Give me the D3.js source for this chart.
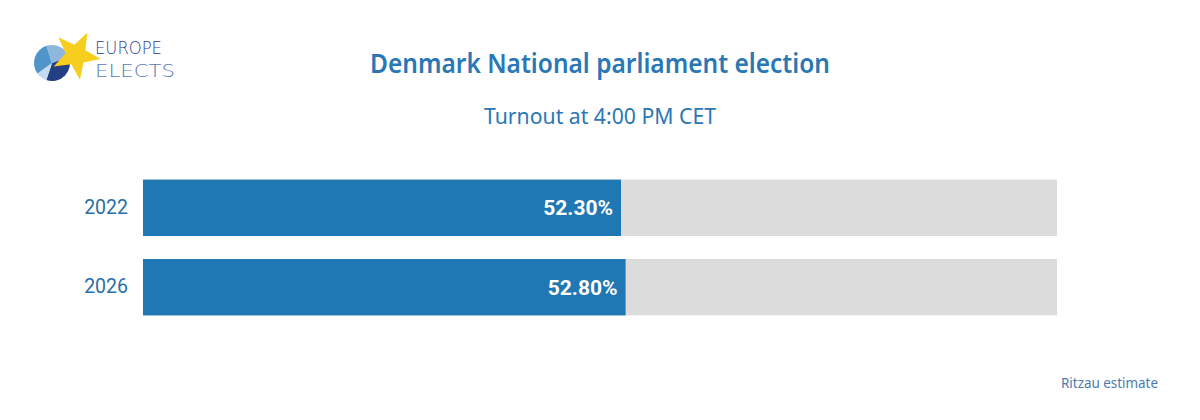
<!DOCTYPE html>
<html><head><meta charset="utf-8">
<script src="https://cdn.jsdelivr.net/npm/d3@7"></script>
<style>body{margin:0;background:#fff}svg{display:block}</style>
</head><body>
<script>
const categories = ["2022", "2026"];
const turnout = [52.30, 52.80];
const maxValue = 100;
const titleText = "Denmark National parliament election";
const subtitleText = "Turnout at 4:00 PM CET";
const sourceText = "Ritzau estimate";

const W = 1200, H = 420;
const svg = d3.select("body").append("svg").attr("width", W).attr("height", H);
svg.append("rect").attr("width", W).attr("height", H).attr("fill", "#fff");

const x = d3.scaleLinear().domain([0, maxValue]).range([143, 1057]);
const y = d3.scaleBand().domain(categories).range([168.5, 326.5]).paddingInner(0.29).paddingOuter(0.14);

const titleFont = "'Noto Sans', 'DejaVu Sans', sans-serif";
svg.append("text").attr("x", 600).attr("y", 73).attr("text-anchor", "middle")
  .attr("font-family", titleFont).attr("font-size", 27).attr("font-weight", 600)
  .attr("fill", "#2a77b6").attr("textLength", 460).attr("lengthAdjust", "spacingAndGlyphs")
  .text(titleText);
svg.append("text").attr("x", 600).attr("y", 124).attr("text-anchor", "middle")
  .attr("font-family", titleFont).attr("font-size", 22)
  .attr("fill", "#2a77b6").attr("textLength", 232).attr("lengthAdjust", "spacingAndGlyphs")
  .text(subtitleText);

const rows = svg.append("g").selectAll("g").data(categories).join("g");
rows.append("rect").attr("x", x(0)).attr("y", d => y(d)).attr("width", x(maxValue) - x(0))
  .attr("height", y.bandwidth()).attr("fill", "#dcdcdc");
rows.append("rect").attr("x", x(0)).attr("y", d => y(d)).attr("width", (d, i) => x(turnout[i]) - x(0))
  .attr("height", y.bandwidth()).attr("fill", "#1f77b4");
rows.append("text").attr("x", (d, i) => x(turnout[i]) - 8).attr("y", d => y(d) + y.bandwidth() / 2)
  .attr("dy", "0.36em").attr("text-anchor", "end")
  .attr("font-family", "Roboto, sans-serif").attr("font-weight", "bold").attr("font-size", 21)
  .attr("fill", "#fff").text((d, i) => turnout[i].toFixed(2) + "%");

const yAxis = svg.append("g").attr("transform", `translate(${x(0)},0)`)
  .call(d3.axisLeft(y).tickSize(0).tickPadding(15));
yAxis.select(".domain").remove();
yAxis.selectAll("text").attr("font-family", "Roboto, sans-serif").attr("font-size", 19.5).attr("fill", "#2a6fa8");

svg.append("text").attr("x", 1158).attr("y", 388).attr("text-anchor", "end")
  .attr("font-family", titleFont).attr("font-size", 14).attr("fill", "#4a7bb0")
  .attr("textLength", 97).attr("lengthAdjust", "spacingAndGlyphs").text(sourceText);

// Logo
const logo = svg.append("g");
const pieData = [
  {v: 0.36, c: "#253f84"},
  {v: 0.10, c: "#c3dbf0"},
  {v: 0.30, c: "#4f95c9"},
  {v: 0.24, c: "#8fb6dc"}
];
const pie = d3.pie().value(d => d.v).sort(null).startAngle(1.2).endAngle(1.2 + 2 * Math.PI);
const arc = d3.arc().innerRadius(0).outerRadius(18);
logo.append("g").attr("transform", "translate(52,63)").selectAll("path").data(pie(pieData)).join("path")
  .attr("d", arc).attr("fill", d => d.data.c);
const starPts = d3.range(10).map(i => {
  const a = -Math.PI / 2 + i * Math.PI / 5 + 0.47;
  const r = i % 2 === 0 ? 25 : 10.5;
  return [76 + r * Math.cos(a), 55 + r * Math.sin(a)];
});
logo.append("polygon").attr("points", starPts.map(p => p.join(",")).join(" ")).attr("fill", "#f7cd1e");
logo.append("text").attr("x", 95).attr("y", 54).attr("font-family", "'DejaVu Sans', sans-serif").attr("font-size", 18)
  .attr("font-weight", 300)
  .attr("fill", "#2e3f8f").attr("textLength", 67).attr("lengthAdjust", "spacingAndGlyphs").text("EUROPE");
logo.append("text").attr("x", 95).attr("y", 77).attr("font-family", "'DejaVu Sans', sans-serif").attr("font-size", 18)
  .attr("font-weight", 300)
  .attr("fill", "#5b79b3").attr("textLength", 80).attr("lengthAdjust", "spacingAndGlyphs").text("ELECTS");
</script>
</body></html>
